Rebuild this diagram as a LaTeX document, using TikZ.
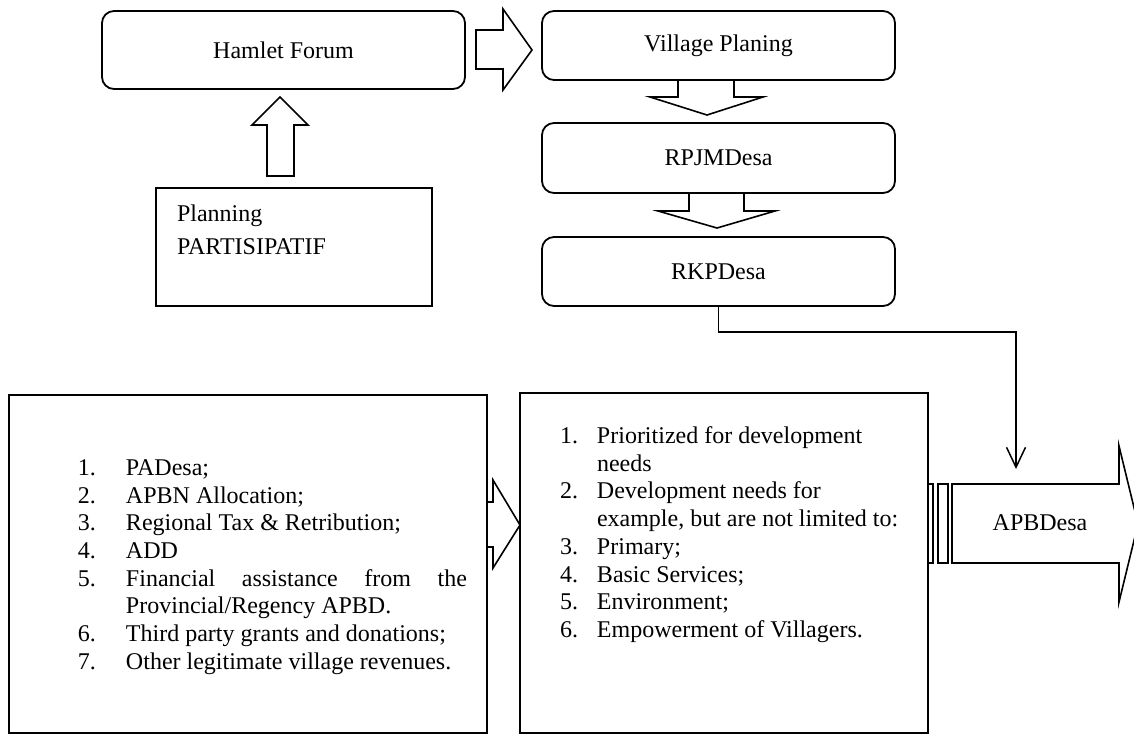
\documentclass[tikz,border=0pt]{standalone}
\usepackage{fontspec}
\setmainfont{Liberation Serif}
\usetikzlibrary{calc,arrows.meta}

\tikzset{
  roundbox/.style={draw, line width=0.9pt, rounded corners=6pt, inner sep=0pt,
    font=\fontsize{12}{14}\selectfont},
  listbox/.style={draw, line width=0.8pt, inner sep=0pt,
    font=\fontsize{12}{13.85}\selectfont},
  blockarrow/.style={draw, line width=0.8pt, line join=miter},
}

\begin{document}
\begin{tikzpicture}[x=0.5pt,y=-0.5pt]
    \useasboundingbox (0,0) rectangle (1134,734);
    \node[roundbox, minimum width=181.5pt, minimum height=39pt] (hamlet) at (283.5,50) {Hamlet Forum};
    \node[roundbox, minimum width=176.5pt, minimum height=34.5pt] (village) at (718.5,45.5) {Village Planing};
    \node[roundbox, minimum width=176.5pt, minimum height=35pt] (rpjm) at (718.5,158) {RPJMDesa};
    \node[roundbox, minimum width=176.5pt, minimum height=34.5pt] (rkp) at (718.5,271.5) {RKPDesa};
    \node[listbox] (planning) at (294,247)
        {\parbox[c][59pt][t]{138pt}{\leftskip=10.5pt\baselineskip=16.3pt
         \vspace*{8.5pt}Planning\\PARTISIPATIF}};
    \node[listbox] (sources) at (248,564)
        {\parbox[c][169pt][t]{239pt}{\leftskip=34.5pt\rightskip=10pt\baselineskip=13.85pt
         \vspace*{32.3pt}
         \makebox[24pt][l]{1.}PADesa;\par
         \makebox[24pt][l]{2.}APBN Allocation;\par
         \makebox[24pt][l]{3.}Regional Tax \& Retribution;\par
         \makebox[24pt][l]{4.}ADD\par
         \hangindent=24pt\hangafter=1
         \makebox[24pt][l]{5.}Financial assistance from the\linebreak Provincial/Regency APBD.\par
         \makebox[24pt][l]{6.}Third party grants and donations;\par
         \makebox[24pt][l]{7.}Other legitimate village revenues.\par}};
    \node[listbox] (needs) at (724,563)
        {\parbox[c][170pt][t]{204pt}{\leftskip=20pt\baselineskip=13.85pt
         \vspace*{16.8pt}
         \hangindent=18.5pt\hangafter=1
         \makebox[18.5pt][l]{1.}Prioritized for development\\needs\par
         \hangindent=18.5pt\hangafter=1
         \makebox[18.5pt][l]{2.}Development needs for\\example, but are not limited to:\par
         \makebox[18.5pt][l]{3.}Primary;\par
         \makebox[18.5pt][l]{4.}Basic Services;\par
         \makebox[18.5pt][l]{5.}Environment;\par
         \makebox[18.5pt][l]{6.}Empowerment of Villagers.\par}};
    \node[font=\fontsize{12}{14}\selectfont] (apbd) at (1040,523) {APBDesa};

    \draw[blockarrow] (476,30) -- (503,30) -- (503,9) -- (532,50) -- (503,90) -- (503,69) -- (476,69) -- cycle;
    \draw[blockarrow] (678,80) -- (678,97) -- (650,97) -- (707,115) -- (763,97) -- (734,97) -- (734,80);
    \draw[blockarrow] (689,193) -- (689,211) -- (658,211) -- (717,228) -- (775,211) -- (744,211) -- (744,193);
    \draw[blockarrow] (267,176) -- (267,125) -- (252,125) -- (280,97) -- (308,125) -- (294,125) -- (294,176) -- cycle;
    \draw[blockarrow] (487,502) -- (493,502) -- (493,480) -- (520,525) -- (493,568) -- (493,547) -- (487,547);
    \draw[blockarrow] (928,484) rectangle (933,563);
    \draw[blockarrow] (938,484) rectangle (948,563);
    \draw[blockarrow] (952,484) -- (1119,484) -- (1119,446) -- (1138,524) -- (1119,602) -- (1119,563) -- (952,563) -- cycle;

    \coordinate (bend) at (1016,332);
    \coordinate (apbtop) at (1016,469);
    \draw[line width=0.75pt, -{Straight Barb[length=10pt,width=9.5pt]}] (rkp.south) |- (bend) -- (apbtop);
\end{tikzpicture}
\end{document}
